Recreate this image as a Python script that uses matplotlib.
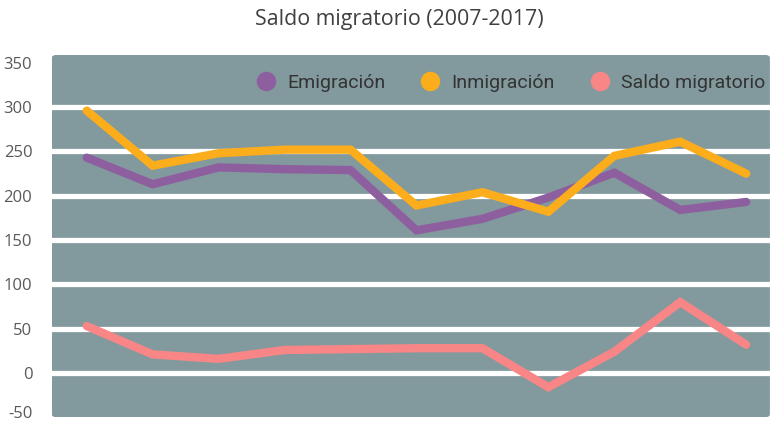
import matplotlib.pyplot as plt
import matplotlib.transforms as mtransforms
from matplotlib.patches import FancyBboxPatch
from matplotlib.lines import Line2D

years = [2007, 2008, 2009, 2010, 2011, 2012, 2013, 2014, 2015, 2016, 2017]
emigracion = [243, 213, 232, 230, 229, 161, 174, 198, 226, 184, 193]
inmigracion = [296, 234, 248, 252, 252, 189, 204, 182, 245, 261, 225]
saldo = [53, 21, 16, 26, 27, 28, 28, -16, 24, 80, 32]
yticks = [-50, 0, 50, 100, 150, 200, 250, 300, 350]

c_emi = '#8e5f9e'
c_inm = '#fbad1c'
c_sal = '#f88686'
bg = '#82999e'

fig = plt.figure(figsize=(7.73, 4.25), dpi=100)
ax = fig.add_axes([0.067, 0.018, 0.929, 0.853])
ax.set_facecolor('none')

xs = list(range(len(years)))
ax.set_xlim(-0.53, 10.36)
ax.set_ylim(-45, 359)

# fondo gris redondeado
ax.add_patch(FancyBboxPatch((0, 0), 1, 1, boxstyle='round,pad=0,rounding_size=0.008',
                            transform=ax.transAxes, facecolor=bg, edgecolor='none', zorder=0))
for v in yticks[1:-1]:
    ax.axhline(v, color='white', lw=3.8, zorder=1)

ax.plot(xs, emigracion, color=c_emi, lw=6, solid_capstyle='round', solid_joinstyle='miter', zorder=3)
ax.plot(xs, inmigracion, color=c_inm, lw=6, solid_capstyle='round', solid_joinstyle='miter', zorder=4)
ax.plot(xs, saldo, color=c_sal, lw=6, solid_capstyle='round', solid_joinstyle='miter', zorder=3)

ax.set_yticks(yticks)
ax.set_yticklabels([str(v) for v in yticks], fontsize=12, color='#595959', family='Open Sans')
ax.tick_params(axis='y', length=0, pad=14)
ax.set_xticks([])
for s in ax.spines.values():
    s.set_visible(False)

# subir un poco la etiqueta -50 para que no quede cortada
lbl = ax.get_yticklabels()[0]
lbl.set_transform(lbl.get_transform() + mtransforms.ScaledTranslation(0, 4 / 72, fig.dpi_scale_trans))

handles = [Line2D([], [], marker='o', ls='none', ms=13, color=c) for c in (c_emi, c_inm, c_sal)]
ax.legend(handles, ['Emigración', 'Inmigración', 'Saldo migratorio'], loc='upper right',
          bbox_to_anchor=(1.018, 0.995), ncol=3, frameon=False, handletextpad=0.1,
          columnspacing=1.3, prop={'family': 'Roboto', 'size': 14}, labelcolor='#333333')

fig.text(0.517, 0.955, 'Saldo migratorio (2007-2017)', ha='center', va='center',
         fontsize=15.4, color='#404040', family='Open Sans')

fig.savefig('out.png', dpi=100)
